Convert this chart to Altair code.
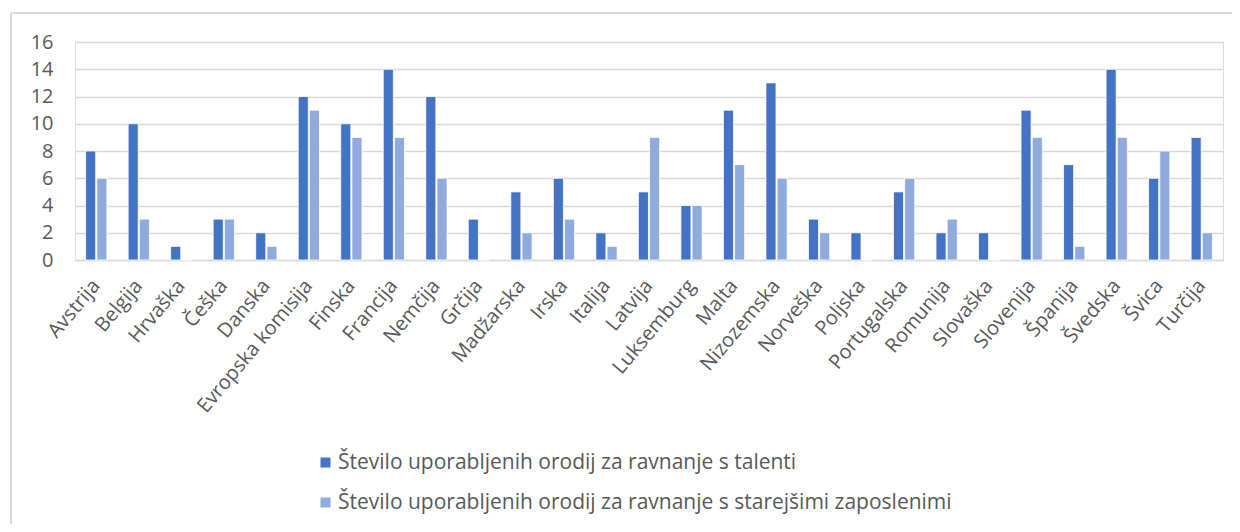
import altair as alt
import pandas as pd

categories = ["Avstrija", "Belgija", "Hrvaška", "Češka", "Danska", "Evropska komisija",
              "Finska", "Francija", "Nemčija", "Grčija", "Madžarska", "Irska", "Italija",
              "Latvija", "Luksemburg", "Malta", "Nizozemska", "Norveška", "Poljska",
              "Portugalska", "Romunija", "Slovaška", "Slovenija", "Španija", "Švedska",
              "Švica", "Turčija"]
talenti = [8, 10, 1, 3, 2, 12, 10, 14, 12, 3, 5, 6, 2, 5, 4, 11, 13, 3, 2, 5, 2, 2, 11, 7, 14, 6, 9]
starejsi = [6, 3, 0, 3, 1, 11, 9, 9, 6, 0, 2, 3, 1, 9, 4, 7, 6, 2, 0, 6, 3, 0, 9, 1, 9, 8, 2]
series = ["Število uporabljenih orodij za ravnanje s talenti",
          "Število uporabljenih orodij za ravnanje s starejšimi zaposlenimi"]
colors = ["#4472C4", "#8FAADC"]

rows = []
for c, a, b in zip(categories, talenti, starejsi):
    rows.append({"drzava": c, "serija": series[0], "vrednost": a})
    rows.append({"drzava": c, "serija": series[1], "vrednost": b})
df = pd.DataFrame(rows)

FONT = "Open Sans"
GREY = "#595959"
FRAME = "#d9d9d9"

bars = alt.Chart(df).mark_bar(stroke="white", strokeWidth=0.8).encode(
    x=alt.X("drzava:N", sort=categories, title=None,
            scale=alt.Scale(paddingInner=0.5, paddingOuter=0.25),
            axis=alt.Axis(labelAngle=-50, labelFontSize=20, labelColor=GREY, labelFont=FONT,
                          ticks=False, domainColor=FRAME, domainWidth=1.5,
                          labelPadding=22, labelLimit=300)),
    xOffset=alt.XOffset("serija:N", sort=series, scale=alt.Scale(paddingInner=0.1)),
    y=alt.Y("vrednost:Q", title=None,
            scale=alt.Scale(domain=[0, 16], nice=False),
            axis=alt.Axis(values=list(range(0, 17, 2)), labelFontSize=20, labelColor=GREY,
                          labelFont=FONT, ticks=False, domain=False, gridColor=FRAME,
                          gridWidth=1.5, labelPadding=22)),
    color=alt.Color("serija:N", sort=series,
                    scale=alt.Scale(domain=series, range=colors),
                    legend=alt.Legend(title=None, orient="none", legendX=240, legendY=410,
                                      direction="vertical", symbolType="square",
                                      symbolSize=100, symbolStrokeWidth=0,
                                      labelFontSize=21, labelFont=FONT, labelColor=GREY,
                                      rowPadding=18, labelLimit=900, labelOffset=2)),
)

frame_data = alt.Data(values=[{"k": 1}])
left_edge = alt.Chart(frame_data).mark_rule(color=FRAME, strokeWidth=2).encode(
    x=alt.value(-64), y=alt.value(-29), y2=alt.value(520))
top_edge = alt.Chart(frame_data).mark_rule(color=FRAME, strokeWidth=2).encode(
    x=alt.value(-64), x2=alt.value(1200), y=alt.value(-29))

chart = alt.layer(bars, left_edge, top_edge).properties(
    width=1148, height=218,
    autosize=alt.AutoSizeParams(type="none"),
    padding={"left": 67, "top": 34, "right": 9, "bottom": 264},
).configure_view(stroke=None).configure(background="white")

chart.save("out.html", embed_options={"renderer": "svg", "actions": False})
